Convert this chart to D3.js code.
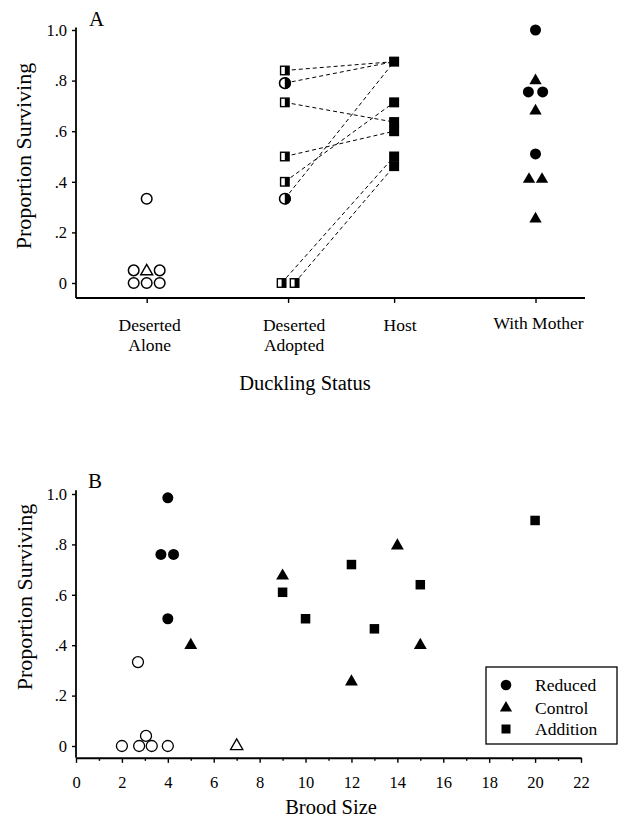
<!DOCTYPE html>
<html><head><meta charset="utf-8">
<script src="https://cdn.jsdelivr.net/npm/d3@7"></script>
<style>
body{margin:0;background:#fff}
svg{display:block}
text{font-family:"Liberation Serif","Times New Roman",serif;fill:#000}
</style>
</head><body>
<svg id="c" width="623" height="821"></svg>
<script>
// ---------------- Panel A data ----------------
const catLabels = [["Deserted","Alone"],["Deserted","Adopted"],["Host"],["With Mother"]];
const catPos = [1, 2, 2.75, 3.75];
const yTickValues = [0, 0.2, 0.4, 0.6, 0.8, 1.0];
const yTickLabels = ["0", ".2", ".4", ".6", ".8", "1.0"];
// [category index, slot within category, proportion surviving]
const aloneCircles    = [[0,0,0.333],[0,-1,0.05],[0,1,0.05],[0,-1,0],[0,0,0],[0,1,0]];
const aloneTriangles  = [[0,0,0.05]];
const adoptedSquares  = [[1,-0.25,0.84],[1,-0.25,0.714],[1,-0.25,0.5],[1,-0.25,0.4],[1,-0.5,0],[1,0.5,0]];
const adoptedCircles  = [[1,-0.25,0.79],[1,-0.25,0.333]];
const hostSquares     = [[2,0,0.875],[2,0,0.714],[2,0,0.636],[2,0,0.6],[2,0,0.5],[2,0,0.462]];
const motherCircles   = [[3,0,1.0],[3,-0.55,0.755],[3,0.55,0.755],[3,0,0.51]];
const motherTriangles = [[3,0,0.8],[3,0,0.68],[3,-0.5,0.41],[3,0.5,0.41],[3,0,0.253]];
// dashed links: [adopted slot, adopted value, host value]
const adoptionLinks = [[-0.25,0.84,0.875],[-0.25,0.79,0.875],[-0.25,0.714,0.636],[-0.25,0.5,0.6],
                       [-0.25,0.4,0.714],[-0.25,0.333,0.875],[-0.5,0,0.5],[0.5,0,0.462]];

// ---------------- Panel B data ----------------
const xTicksB = [0,2,4,6,8,10,12,14,16,18,20,22];
const legendLabels = ["Reduced","Control","Addition"];
// [brood size, proportion surviving]
const reducedPts   = [[4,0.985],[3.7,0.76],[4.25,0.76],[4,0.505]];
const controlPts   = [[5,0.4],[9,0.675],[12,0.255],[14,0.795],[15,0.4]];
const additionPts  = [[9,0.61],[10,0.505],[12,0.72],[13,0.465],[15,0.64],[20,0.895]];
const desertedCirc = [[2.7,0.333],[2,0],[2.75,0],[3.05,0.04],[3.3,0],[4,0]];
const desertedTri  = [[7,0]];

const svg = d3.select("#c");
svg.append("rect").attr("width",623).attr("height",821).attr("fill","#fff");

const tri = d3.symbol().type(d3.symbolTriangle);

function drawYAxis(g, y, x0, yLow, yHigh) {
  const ax = d3.axisLeft(y).tickValues(yTickValues)
    .tickFormat((d,i)=>yTickLabels[i]).tickSize(4).tickPadding(5).tickSizeOuter(0);
  const a = g.append("g").attr("transform",`translate(${x0},0)`).call(ax);
  a.select(".domain").remove();
  a.selectAll("line").attr("stroke","#000").attr("stroke-width",1.4);
  a.selectAll("text").style("font-size","16.5px").attr("font-family",null);
  g.append("line").attr("x1",x0).attr("x2",x0).attr("y1",y(yLow)).attr("y2",y(yHigh))
    .attr("stroke","#000").attr("stroke-width",1.8);
}

// ================= Panel A =================
const gA = svg.append("g");
const xA = d3.scaleLinear().domain([0.5, 4.1]).range([76, 585]);
const yA = d3.scaleLinear().domain([0, 1]).range([283, 30]);
const slotA = 13;
const px = d => xA(catPos[d[0]]) + d[1]*slotA;

drawYAxis(gA, yA, xA(0.5), -0.059, 1.01);
// x axis
const axA = d3.axisBottom(xA).tickValues(catPos).tickFormat("").tickSize(5).tickSizeOuter(0);
const aA = gA.append("g").attr("transform",`translate(0,${yA(-0.059)})`).call(axA);
aA.select(".domain").attr("stroke","#000").attr("stroke-width",2).attr("d",`M${xA(0.5)},0H${xA(4.1)}`);
aA.selectAll("line").attr("stroke","#000").attr("stroke-width",1.4);

catLabels.forEach((lines,i)=>{
  const t = gA.append("text").attr("text-anchor","middle").style("font-size","17.5px");
  lines.forEach((s,j)=>{
    t.append("tspan").attr("x",xA(catPos[i])+(i===3?3:(i===0?3:6))).attr("y",(i===3?329:331)+j*20).text(s);
  });
});
gA.append("text").attr("x",305).attr("y",390).attr("text-anchor","middle").style("font-size","20.5px").text("Duckling Status");
gA.append("text").attr("transform","translate(31,156) rotate(-90)").attr("text-anchor","middle")
  .style("font-size","22px").text("Proportion Surviving");
gA.append("text").attr("x",89).attr("y",26).style("font-size","21px").text("A");

// dashed links
gA.selectAll("line.link").data(adoptionLinks).enter().append("line")
  .attr("x1",d=>xA(catPos[1])+d[0]*slotA).attr("y1",d=>yA(d[1]))
  .attr("x2",xA(catPos[2])).attr("y2",d=>yA(d[2]))
  .attr("stroke","#000").attr("stroke-width",1).attr("stroke-dasharray","4,3");

// open circles (alone)
gA.selectAll("circle.al").data(aloneCircles).enter().append("circle")
  .attr("cx",px).attr("cy",d=>yA(d[2])).attr("r",5.3)
  .attr("fill","#fff").attr("stroke","#000").attr("stroke-width",1.5);
gA.selectAll("path.alt").data(aloneTriangles).enter().append("path")
  .attr("d",tri.size(62)()).attr("transform",d=>`translate(${px(d)},${yA(d[2])+1})`)
  .attr("fill","#fff").attr("stroke","#000").attr("stroke-width",1.4);

// half-filled squares (adopted)
const hs = 8.5;
const sqG = gA.selectAll("g.as").data(adoptedSquares).enter().append("g")
  .attr("transform",d=>`translate(${px(d)},${yA(d[2])})`);
sqG.append("rect").attr("x",-hs/2).attr("y",-hs/2).attr("width",hs).attr("height",hs)
  .attr("fill","#fff").attr("stroke","#000").attr("stroke-width",1.4);
sqG.append("rect").attr("x",0).attr("y",-hs/2).attr("width",hs/2).attr("height",hs).attr("fill","#000");
// half-filled circles (adopted)
const ciG = gA.selectAll("g.ac").data(adoptedCircles).enter().append("g")
  .attr("transform",d=>`translate(${px(d)},${yA(d[2])})`);
ciG.append("circle").attr("r",5.3).attr("fill","#fff").attr("stroke","#000").attr("stroke-width",1.6);
ciG.append("path").attr("d",d3.arc()({innerRadius:0,outerRadius:6.1,startAngle:0,endAngle:Math.PI})).attr("fill","#000");

// host squares
const hsq = 10;
gA.selectAll("rect.h").data(hostSquares).enter().append("rect")
  .attr("x",d=>px(d)-hsq/2).attr("y",d=>yA(d[2])-hsq/2).attr("width",hsq).attr("height",hsq).attr("fill","#000");

// with mother
gA.selectAll("circle.m").data(motherCircles).enter().append("circle")
  .attr("cx",px).attr("cy",d=>yA(d[2])).attr("r",5.5).attr("fill","#000");
gA.selectAll("path.mt").data(motherTriangles).enter().append("path")
  .attr("d",tri.size(66)()).attr("transform",d=>`translate(${px(d)},${yA(d[2])})`).attr("fill","#000");

// ================= Panel B =================
const gB = svg.append("g");
const xB = d3.scaleLinear().domain([0, 22]).range([76, 581]);
const yB = d3.scaleLinear().domain([0, 1]).range([746, 494]);

drawYAxis(gB, yB, xB(0), -0.047, 1.015);
const axB = d3.axisBottom(xB).tickValues(xTicksB).tickFormat(d3.format("d")).tickSize(5).tickPadding(13).tickSizeOuter(0);
const aB = gB.append("g").attr("transform",`translate(0,${yB(-0.047)})`).call(axB);
aB.select(".domain").attr("stroke","#000").attr("stroke-width",2);
aB.selectAll("line").attr("stroke","#000").attr("stroke-width",1.4);
aB.selectAll("text").style("font-size","16.5px").attr("font-family",null);
const minorB = d3.range(1,22,2);
const axBm = d3.axisBottom(xB).tickValues(minorB).tickFormat("").tickSize(3).tickSizeOuter(0);
const aBm = gB.append("g").attr("transform",`translate(0,${yB(-0.047)})`).call(axBm);
aBm.select(".domain").remove();
aBm.selectAll("line").attr("stroke","#000").attr("stroke-width",1.4);

gB.append("text").attr("x",331).attr("y",814).attr("text-anchor","middle").style("font-size","20.5px").text("Brood Size");
gB.append("text").attr("transform","translate(32,597) rotate(-90)").attr("text-anchor","middle")
  .style("font-size","22px").text("Proportion Surviving");
gB.append("text").attr("x",88).attr("y",488).style("font-size","21px").text("B");

gB.selectAll("circle.dc").data(desertedCirc).enter().append("circle")
  .attr("cx",d=>xB(d[0])).attr("cy",d=>yB(d[1])).attr("r",5.5)
  .attr("fill","#fff").attr("stroke","#000").attr("stroke-width",1.3);
gB.selectAll("path.dt").data(desertedTri).enter().append("path")
  .attr("d",tri.size(66)()).attr("transform",d=>`translate(${xB(d[0])},${yB(d[1])})`)
  .attr("fill","#fff").attr("stroke","#000").attr("stroke-width",1.3);
gB.selectAll("circle.r").data(reducedPts).enter().append("circle")
  .attr("cx",d=>xB(d[0])).attr("cy",d=>yB(d[1])).attr("r",5.5).attr("fill","#000");
gB.selectAll("path.c").data(controlPts).enter().append("path")
  .attr("d",tri.size(72)()).attr("transform",d=>`translate(${xB(d[0])},${yB(d[1])})`).attr("fill","#000");
const bsq = 9.5;
gB.selectAll("rect.a").data(additionPts).enter().append("rect")
  .attr("x",d=>xB(d[0])-bsq/2).attr("y",d=>yB(d[1])-bsq/2).attr("width",bsq).attr("height",bsq).attr("fill","#000");

// legend
const lg = gB.append("g").attr("transform","translate(486,667)");
lg.append("rect").attr("width",131).attr("height",77).attr("fill","#fff").attr("stroke","#000").attr("stroke-width",1.3);
const rowY = [18, 41, 62];
legendLabels.forEach((lab,i)=>{
  const cy = rowY[i];
  if (i===0) lg.append("circle").attr("cx",20).attr("cy",cy).attr("r",5.3).attr("fill","#000");
  if (i===1) lg.append("path").attr("d",tri.size(64)()).attr("transform",`translate(20,${cy})`).attr("fill","#000");
  if (i===2) lg.append("rect").attr("x",20-4.5).attr("y",cy-4.5).attr("width",9).attr("height",9).attr("fill","#000");
  lg.append("text").attr("x",49).attr("y",cy+6).style("font-size","17.5px").text(lab);
});
</script>
</body></html>
